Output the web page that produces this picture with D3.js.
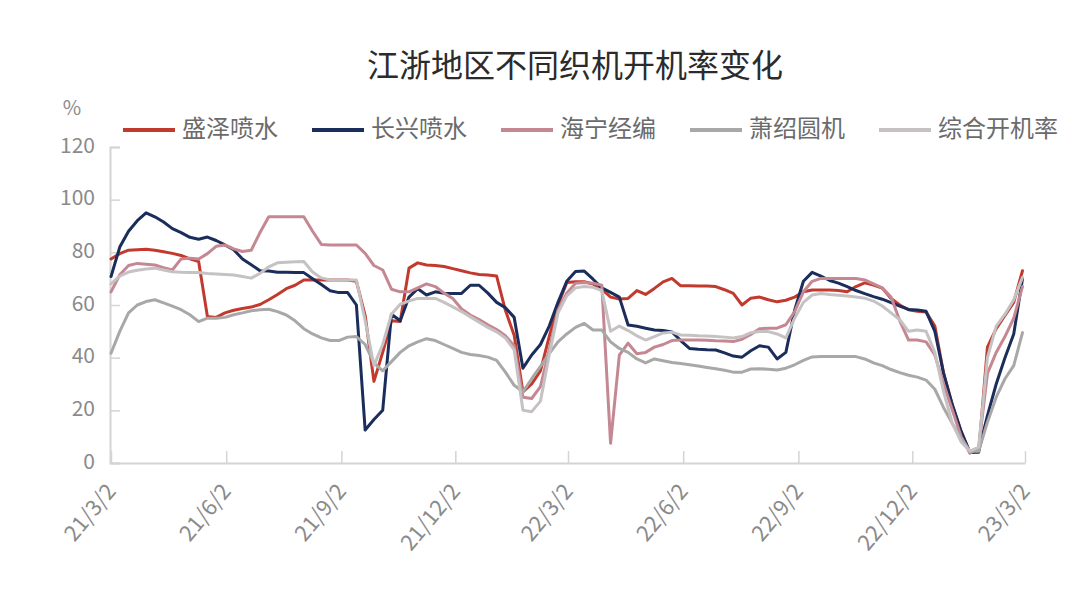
<!DOCTYPE html>
<html><head><meta charset="utf-8">
<script src="https://cdn.jsdelivr.net/npm/d3@7"></script>
<style>body{margin:0;background:#fff}svg{display:block}</style>
</head><body><svg id="chart" width="1080" height="610"></svg>
<script>
const dates = [
"2021-03-02","2021-03-09","2021-03-16","2021-03-23","2021-03-30","2021-04-06","2021-04-13","2021-04-20","2021-04-27","2021-05-04",
"2021-05-11","2021-05-18","2021-05-25","2021-06-01","2021-06-08","2021-06-15","2021-06-22","2021-06-29","2021-07-06","2021-07-13",
"2021-07-20","2021-07-27","2021-08-03","2021-08-10","2021-08-17","2021-08-24","2021-08-31","2021-09-07","2021-09-14","2021-09-21",
"2021-09-28","2021-10-05","2021-10-12","2021-10-19","2021-10-26","2021-11-02","2021-11-09","2021-11-16","2021-11-23","2021-11-30",
"2021-12-07","2021-12-14","2021-12-21","2021-12-28","2022-01-04","2022-01-11","2022-01-18","2022-01-25","2022-02-01","2022-02-08",
"2022-02-15","2022-02-22","2022-03-01","2022-03-08","2022-03-15","2022-03-22","2022-03-29","2022-04-05","2022-04-12","2022-04-19",
"2022-04-26","2022-05-03","2022-05-10","2022-05-17","2022-05-24","2022-05-31","2022-06-07","2022-06-14","2022-06-21","2022-06-28",
"2022-07-05","2022-07-12","2022-07-19","2022-07-26","2022-08-02","2022-08-09","2022-08-16","2022-08-23","2022-08-30","2022-09-06",
"2022-09-13","2022-09-20","2022-09-27","2022-10-04","2022-10-11","2022-10-18","2022-10-25","2022-11-01","2022-11-08","2022-11-15",
"2022-11-22","2022-11-29","2022-12-06","2022-12-13","2022-12-20","2022-12-27","2023-01-03","2023-01-10","2023-01-17","2023-01-24",
"2023-01-31","2023-02-07","2023-02-14","2023-02-21","2023-02-28"];

const shengze = [77.5,79.5,80.8,81,81.2,80.8,80.2,79.6,78.8,77.5,
 76.5,55.6,55.3,57,58,58.7,59.2,60.2,62,64,
 66.2,67.5,69.5,69.5,69.5,69.5,69.5,69.5,69,56,
 31,42,54,53.7,74,76,75.2,75,74.6,73.8,
 73,72.2,71.6,71.4,71,58,48.5,27,30,35,
 48,60,68.5,68.8,68.8,68,66,63,62.3,62.5,
 65.5,64,66.3,68.8,70.1,67.3,67.3,67.2,67.2,67,
 65.8,64.4,60,62.6,63,62,61.2,61.8,63,65,
 65.7,65.7,65.7,65.5,65,67,68.4,67.6,66.4,62.5,
 60,58.2,57.6,57.3,52,34,22,12,4,4,
 44,51,56,61,73];
const changxing = [70.8,82,88,92,95,93.5,91.5,89,87.5,85.7,
 85,85.8,84.5,82.8,81,77.5,75.3,73,72.9,72.4,
 72.4,72.3,72.3,70,67.8,65.4,64.7,64.7,60,12.5,
 16.5,20,56.5,54,63,66.2,63.8,65,64.5,64.4,
 64.4,67.5,67.5,64.5,61,59,55.3,36,41,45,
 52,61,69,72.7,72.9,69.8,66.5,64.8,63,52.4,
 51.9,51.2,50.5,50.3,49.8,46.5,43.5,43.2,43,42.9,
 41.8,40.6,40.2,42.6,44.5,44,39.5,42,58,69,
 72.4,71,69.3,68.3,67,65.5,64.3,63.2,62.2,60.9,
 59.6,58.3,58.1,57.6,50,34,22,12,4,4.5,
 18,30,40,49,70];
const haining = [65,71.5,75,75.8,75.5,75.2,74.2,73.3,77.5,77.8,
 77.5,79.5,82.3,82.8,81.3,80.3,80.8,87.5,93.5,93.5,
 93.5,93.5,93.5,88,83,82.8,82.8,82.8,82.8,79.6,
 75,73.3,66,65,65,66.5,68,67,64.5,62.5,
 58.5,56.2,54.5,52.5,50.7,48.3,44.5,25,24.5,29,
 43,58,64.5,68.3,68.5,68.3,67.5,7.5,41,45.5,
 41.5,42,44,45,46.5,46.7,46.7,46.7,46.6,46.4,
 46.3,46.1,47,48.8,51,51.2,51.2,52.5,57.5,65,
 69,70.1,70.1,70.1,70.1,70.1,69.5,68,66.5,63,
 54,46.7,46.7,46,41,30,20,10,3.7,6,
 34,42,48,55,67];
const xiaoshao = [41.7,50,57,60,61.3,62,60.8,59.6,58.2,56.3,
 53.7,55,55,55.3,56.3,57,57.8,58.2,58.4,57.5,
 56.2,54,51,49,47.5,46.5,46.5,47.8,48,45,
 38,35,38.5,42,44.5,46,47.2,46.5,45,43.5,
 42,41.2,40.8,40.2,39,34.5,29.5,27,32,36.7,
 41.5,46,49,51.5,53,50.5,50.5,46,43.5,42,
 39.5,38,39.5,38.8,38.2,37.8,37.3,36.8,36.3,35.8,
 35.2,34.5,34.5,35.7,35.8,35.6,35.3,36,37.3,39,
 40.3,40.4,40.4,40.4,40.4,40.4,39.5,38,37,35.5,
 34.3,33.3,32.6,31.5,28,21,15,9.5,4.5,4.5,
 15.5,25,32,37,49.5];
const zonghe = [68,71,72.5,73.2,73.7,74,73.3,72.6,72.4,72.3,
 72.3,72,71.8,71.6,71.4,70.8,70.2,72,74.5,76,
 76.2,76.4,76.5,72.5,70.3,69.5,69.5,69.5,69.5,54,
 37,45,56.5,60.3,61.5,62.5,62.5,62.5,61,59.3,
 57.5,55.5,53.5,51.5,49.8,47.5,43,20,19.5,23.5,
 41,57,63.5,66.5,67,66.7,65.5,50,52,50.3,
 48.3,46.7,48,49.4,49.7,48.6,48.5,48.3,48.2,48,
 47.8,47.5,48,49.5,49.9,49.9,49,47.5,55,61,
 63.8,64.4,64,63.7,63.4,63,62.6,61.5,59.6,57,
 54.4,50,50.5,50,42,27,15,8,4.5,6,
 40,52,56.5,62,70.5];

const seriesNames = ["盛泽喷水","长兴喷水","海宁经编","萧绍圆机","综合开机率"];
const seriesValues = [shengze, changxing, haining, xiaoshao, zonghe];
const seriesColors = ["#c23a2e","#1b2d5a","#c58893","#a8a8a8","#c6c2c4"];
const yTicks = [0,20,40,60,80,100,120];
const xTickLabels = ["21/3/2","21/6/2","21/9/2","21/12/2","22/3/2","22/6/2","22/9/2","22/12/2","23/3/2"];
const titleText = "江浙地区不同织机开机率变化";
const yUnit = "%";

const FONT = "'Noto Sans CJK SC','Noto Sans',sans-serif";
const parseDate = d3.timeParse("%Y-%m-%d");
const parseTick = d3.timeParse("%y/%-m/%-d");
const xDates = dates.map(parseDate);
const tickDates = xTickLabels.map(parseTick);

const svg = d3.select("#chart");
svg.append("rect").attr("width",1080).attr("height",610).attr("fill","#fff");

const x = d3.scaleTime().domain([tickDates[0], tickDates[tickDates.length-1]]).range([111,1025]);
const y = d3.scaleLinear().domain([0,120]).range([463,147]);

// title
svg.append("text").attr("x",575).attr("y",68).attr("text-anchor","middle")
  .attr("dominant-baseline","middle").attr("font-family",FONT).attr("font-size",32)
  .attr("fill","#2b2b2b").text(titleText);

// unit
svg.append("text").attr("x",72).attr("y",110).attr("text-anchor","middle")
  .attr("dominant-baseline","middle").attr("font-family",FONT).attr("font-size",20)
  .attr("fill","#8c8c8c").text(yUnit);

// y axis
const yAxis = svg.append("g").attr("transform","translate(110,0)")
  .call(d3.axisRight(y).tickValues(yTicks).tickSize(10).tickFormat(""));
yAxis.select(".domain").attr("stroke","#d4d4d4").attr("stroke-width",2);
yAxis.selectAll(".tick line").attr("stroke","#d4d4d4").attr("stroke-width",1.5);
svg.append("g").selectAll("text").data(yTicks).join("text")
  .attr("x",95).attr("y",d=>y(d)).attr("text-anchor","end").attr("dominant-baseline","middle")
  .attr("font-family",FONT).attr("font-size",21).attr("fill","#8a8a8a").text(d=>d);

// x axis
const xAxis = svg.append("g").attr("transform","translate(0,463)")
  .call(d3.axisTop(x).tickValues(tickDates).tickSize(12).tickSizeOuter(0).tickFormat(""));
xAxis.select(".domain").attr("stroke","#d4d4d4").attr("stroke-width",2);
xAxis.selectAll(".tick line").attr("stroke","#d4d4d4").attr("stroke-width",1.5);
svg.append("g").selectAll("text").data(tickDates).join("text")
  .attr("transform",d=>`translate(${x(d)+6},492) rotate(-50)`)
  .attr("text-anchor","end").attr("font-family",FONT).attr("font-size",22)
  .attr("fill","#8a8a8a").text((d,i)=>xTickLabels[i]);

// lines
const line = d3.line().x((d,i)=>x(xDates[i])).y(d=>y(d)).curve(d3.curveLinear);
svg.append("g").selectAll("path").data(seriesValues).join("path")
  .attr("d",d=>line(d)).attr("fill","none")
  .attr("stroke",(d,i)=>seriesColors[i]).attr("stroke-width",3)
  .attr("stroke-linejoin","round").attr("stroke-linecap","round");

// legend
const lg = svg.append("g").selectAll("g").data(seriesNames).join("g")
  .attr("transform",(d,i)=>`translate(${123+i*189},130)`);
lg.append("line").attr("x1",0).attr("x2",52).attr("y1",0).attr("y2",0)
  .attr("stroke",(d,i)=>seriesColors[i]).attr("stroke-width",4);
lg.append("text").attr("x",59).attr("y",0).attr("dominant-baseline","middle")
  .attr("font-family",FONT).attr("font-size",24).attr("fill","#6b6b6b").text(d=>d);
</script></body></html>
